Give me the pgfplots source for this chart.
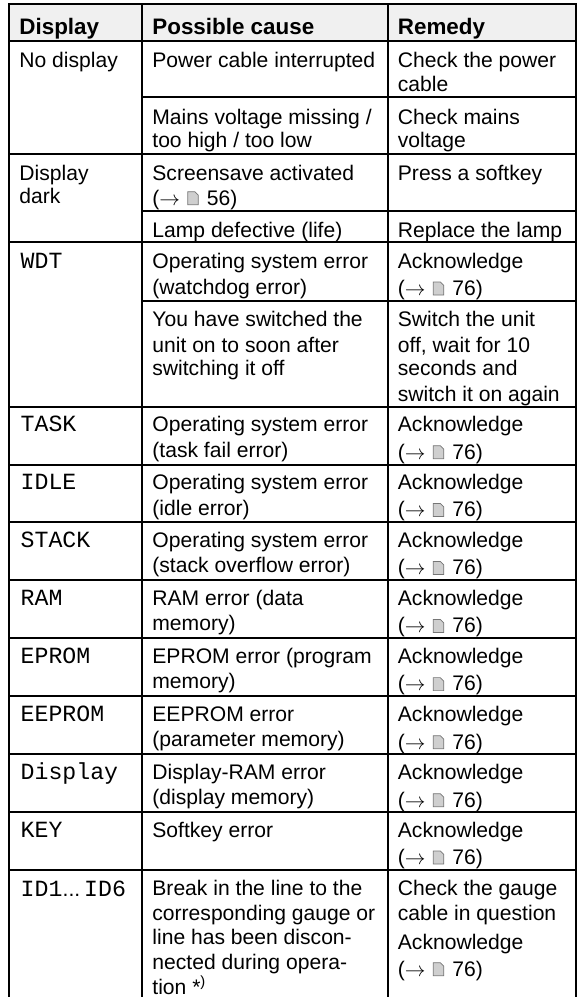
\documentclass[border=0pt]{standalone}
\usepackage{pgfplots}
\pgfplotsset{compat=1.18}
\usepackage{fontspec}
\setmainfont{Liberation Sans}
\setmonofont{Liberation Mono}
\definecolor{hdr}{HTML}{F0F0F0}
\definecolor{icf}{HTML}{CFCFCF}
\definecolor{ice}{HTML}{757575}
\newcommand\T[3]{\node[anchor=base west,inner sep=0pt,font=\fontsize{21.1bp}{25bp}\selectfont] at (axis cs:#1,#2) {#3};}
\newcommand\B[3]{\node[anchor=base west,inner sep=0pt,font=\fontsize{22.4bp}{25bp}\selectfont\bfseries] at (axis cs:#1,#2) {#3};}
\newcommand\M[3]{\node[anchor=base west,inner sep=0pt,font=\fontsize{23.2bp}{25bp}\selectfont\ttfamily] at (axis cs:#1,#2) {#3};}
\newcommand\PRef[3]{\T{#1}{#2}{($\rightarrow$}%
\filldraw[fill=icf,draw=ice,line width=0.7bp] (axis cs:#1,#2) ++(35.6bp,0.3bp) -- ++(0,13bp) -- ++(7bp,0) -- ++(3.5bp,-3.5bp) -- ++(0,-9.5bp) -- cycle;%
\node[anchor=base west,inner sep=0pt,xshift=54.5bp,font=\fontsize{21.1bp}{25bp}\selectfont] at (axis cs:#1,#2) {#3)};}
\begin{document}
\begin{tikzpicture}[x=1bp,y=1bp]
\useasboundingbox (0,0) rectangle (578bp,997bp);
\begin{axis}[at={(0,0)},anchor=south west,scale only axis,width=578bp,height=997bp,
  xmin=0,xmax=578,ymin=0,ymax=997,y dir=reverse,hide axis,clip=true,
  rl/.style={black,line width=2.1bp,mark=none,line cap=rect}]
\addplot[draw=none,fill=hdr] coordinates {(9,4)(576,4)(576,41)(9,41)} --cycle;
% verticals
\addplot[rl] coordinates {(9.3,4.3)(9.3,997)};
\addplot[rl] coordinates {(141.8,4.3)(141.8,997)};
\addplot[rl] coordinates {(388.3,4.3)(388.3,997)};
\addplot[rl] coordinates {(576.3,4.3)(576.3,997)};
% full-width rules
\addplot[rl] coordinates {(9.3,4.3)(576.3,4.3)};
\addplot[rl] coordinates {(9.3,41)(576.3,41)};
\addplot[rl] coordinates {(9.3,153.7)(576.3,153.7)};
\addplot[rl] coordinates {(9.3,242.3)(576.3,242.3)};
\addplot[rl] coordinates {(9.3,406.7)(576.3,406.7)};
\addplot[rl] coordinates {(9.3,464.7)(576.3,464.7)};
\addplot[rl] coordinates {(9.3,522)(576.3,522)};
\addplot[rl] coordinates {(9.3,579.7)(576.3,579.7)};
\addplot[rl] coordinates {(9.3,637.7)(576.3,637.7)};
\addplot[rl] coordinates {(9.3,695.7)(576.3,695.7)};
\addplot[rl] coordinates {(9.3,753.7)(576.3,753.7)};
\addplot[rl] coordinates {(9.3,811.7)(576.3,811.7)};
\addplot[rl] coordinates {(9.3,869.7)(576.3,869.7)};
% partial rules
\addplot[rl] coordinates {(141.8,97.3)(576.3,97.3)};
\addplot[rl] coordinates {(141.8,211.3)(576.3,211.3)};
\addplot[rl] coordinates {(141.8,300.7)(576.3,300.7)};
% header
\B{19.2}{34.3}{Display}
\B{152.2}{34.3}{Possible cause}
\B{397.7}{34.3}{Remedy}
% rows
\T{19.2}{67.3}{No display}
\T{152.2}{67.3}{Power cable interrupted}
\T{397.7}{67.3}{Check the power}
\T{397.7}{91.7}{cable}
\T{152.2}{124}{Mains voltage missing /}
\T{152.2}{147.3}{too high / too low}
\T{397.7}{124}{Check mains}
\T{397.7}{147.3}{voltage}
\T{19.2}{180}{Display}
\T{19.2}{203.3}{dark}
\T{152.2}{180}{Screensave activated}
\PRef{152.2}{205}{56}
\T{397.7}{180}{Press a softkey}
\T{152.2}{237.3}{Lamp defective (life)}
\T{397.7}{237.3}{Replace the lamp}
\M{20.5}{268.7}{WDT}
\T{152.2}{268.7}{Operating system error}
\T{152.2}{294.7}{(watchdog error)}
\T{397.7}{268.7}{Acknowledge}
\PRef{397.7}{295.3}{76}
\T{152.2}{326.7}{You have switched the}
\T{152.2}{352.3}{unit on to soon after}
\T{152.2}{375.7}{switching it off}
\T{397.7}{326.7}{Switch the unit}
\T{397.7}{352.3}{off, wait for 10}
\T{397.7}{375.7}{seconds and}
\T{397.7}{401}{switch it on again}
\M{20.5}{431.7}{TASK}
\T{152.2}{431.7}{Operating system error}
\T{152.2}{457}{(task fail error)}
\T{397.7}{431.7}{Acknowledge}
\PRef{397.7}{459}{76}
\M{20.5}{489.7}{IDLE}
\T{152.2}{489.7}{Operating system error}
\T{152.2}{515}{(idle error)}
\T{397.7}{489.7}{Acknowledge}
\PRef{397.7}{516.7}{76}
\M{20.5}{547.3}{STACK}
\T{152.2}{547.3}{Operating system error}
\T{152.2}{572.7}{(stack overflow error)}
\T{397.7}{547.3}{Acknowledge}
\PRef{397.7}{574.7}{76}
\M{20.5}{605.3}{RAM}
\T{152.2}{605.3}{RAM error (data}
\T{152.2}{630.7}{memory)}
\T{397.7}{605.3}{Acknowledge}
\PRef{397.7}{632.7}{76}
\M{20.5}{663.5}{EPROM}
\T{152.2}{663.5}{EPROM error (program}
\T{152.2}{688.9}{memory)}
\T{397.7}{663.5}{Acknowledge}
\PRef{397.7}{690.9}{76}
\M{20.5}{721.3}{EEPROM}
\T{152.2}{721.3}{EEPROM error}
\T{152.2}{746.7}{(parameter memory)}
\T{397.7}{721.3}{Acknowledge}
\PRef{397.7}{749}{76}
\M{20.5}{779.3}{Display}
\T{152.2}{779.3}{Display-RAM error}
\T{152.2}{804.7}{(display memory)}
\T{397.7}{779.3}{Acknowledge}
\PRef{397.7}{807}{76}
\M{20.5}{837.3}{KEY}
\T{152.2}{837.3}{Softkey error}
\T{397.7}{837.3}{Acknowledge}
\PRef{397.7}{864.3}{76}
\M{20.5}{896.7}{ID1}
\T{62.5}{896.7}{...}
\M{84}{896.7}{ID6}
\T{152.2}{895.7}{Break in the line to the}
\T{152.2}{920.7}{corresponding gauge or}
\T{152.2}{944.7}{line has been discon-}
\T{152.2}{969.3}{nected during opera-}
\T{152.2}{994.3}{tion *\textsuperscript{)}}
\T{397.7}{895.7}{Check the gauge}
\T{397.7}{920.7}{cable in question}
\T{397.7}{949.3}{Acknowledge}
\PRef{397.7}{976}{76}
\end{axis}
\end{tikzpicture}
\end{document}
